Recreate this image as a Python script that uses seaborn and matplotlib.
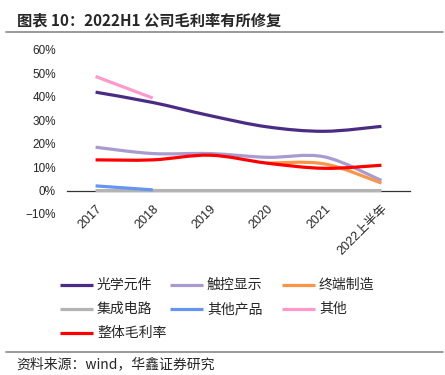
import numpy as np
import pandas as pd
import matplotlib
matplotlib.use("Agg")
import matplotlib.pyplot as plt
from matplotlib.path import Path
from matplotlib.patches import PathPatch
from matplotlib.lines import Line2D
import seaborn as sns

categories = ["2017", "2018", "2019", "2020", "2021", "2022上半年"]
optical = [42.0, 37.6, 32.0, 27.2, 25.3, 27.4]          # 光学元件
touch = [18.5, 15.8, 15.8, 14.2, 14.4, 4.3]             # 触控显示
terminal = [np.nan, np.nan, np.nan, 11.7, 11.4, 3.2]    # 终端制造
ic = [0.0, 0.0, 0.0, 0.0, 0.0, 0.0]                     # 集成电路
other_products = [2.0, 0.3, np.nan, np.nan, np.nan, np.nan]  # 其他产品
other = [48.7, 39.5, np.nan, np.nan, np.nan, np.nan]    # 其他
overall = [13.1, 13.1, 15.1, 11.7, 9.5, 10.8]           # 整体毛利率

series_names = ["光学元件", "触控显示", "终端制造", "集成电路", "其他产品", "其他", "整体毛利率"]
series_vals = [optical, touch, terminal, ic, other_products, other, overall]
colors = ["#4B2C84", "#A99BD0", "#F79646", "#B4B4B4", "#6495F0", "#FF99CC", "#FF0000"]
yticks = [-10, 0, 10, 20, 30, 40, 50, 60]
ytick_labels = ["−10%", "0%", "10%", "20%", "30%", "40%", "50%", "60%"]

sns.set_style("white")
plt.rcParams["font.family"] = ["Liberation Sans", "Noto Sans CJK SC", "DejaVu Sans"]

W, H = 445, 375
fig = plt.figure(figsize=(W / 100, H / 100), dpi=100)
ax = fig.add_axes([67 / W, 1 - 214 / H, (410 - 67) / W, (214 - 50) / H])

df = pd.DataFrame({"x": np.arange(len(categories))})
for n, v in zip(series_names, series_vals):
    df[n] = v


def smooth_path(xs, ys):
    pts = np.column_stack([xs, ys])
    verts = [pts[0]]
    codes = [Path.MOVETO]
    n = len(pts)
    for i in range(n - 1):
        p0 = pts[i - 1] if i > 0 else pts[i]
        p1 = pts[i]
        p2 = pts[i + 1]
        p3 = pts[i + 2] if i + 2 < n else pts[i + 1]
        c1 = p1 + (p2 - p0) / 6.0
        c2 = p2 - (p3 - p1) / 6.0
        verts += [c1, c2, p2]
        codes += [Path.CURVE4] * 3
    return Path(verts, codes)


lw = 2.3
for n, c in zip(series_names, colors):
    sub = df[["x", n]].dropna()
    xs = sub["x"].to_numpy(float)
    ys = sub[n].to_numpy(float)
    if len(xs) < 2:
        continue
    patch = PathPatch(smooth_path(xs, ys), facecolor="none", edgecolor=c,
                      lw=lw, capstyle="butt", joinstyle="round", zorder=3)
    ax.add_patch(patch)

for s in ["left", "right", "top"]:
    ax.spines[s].set_visible(False)
ax.spines["bottom"].set_position(("data", 0))
ax.spines["bottom"].set_color("#333333")
ax.spines["bottom"].set_linewidth(0.9)
ax.spines["bottom"].set_zorder(2)
ax.grid(False)

ax.set_xlim(-0.5, len(categories) - 0.5)
ax.set_ylim(-10, 60)
ax.set_yticks(yticks)
ax.set_yticklabels(ytick_labels, fontsize=8.5)
ax.set_xticks(np.arange(len(categories)))
ax.set_xticklabels(categories, fontsize=9, rotation=45, ha="right",
                   rotation_mode="anchor", va="top",
                   family=["Liberation Sans", "Noto Sans CJK SC"])
ax.set_xticks(np.arange(-0.5, len(categories)), minor=True)
ax.tick_params(axis="x", which="major", length=0, pad=9)
ax.tick_params(axis="x", which="minor", length=3, direction="in", width=0.8, color="#333333")
ax.tick_params(axis="y", length=0, pad=8)

# Title and separators
fig.text(17 / W, 1 - 20 / H, "图表 10：2022H1 公司毛利率有所修复", fontsize=11, fontweight="bold",
         va="center", ha="left", family=["Noto Sans CJK SC", "DejaVu Sans"])
fig.add_artist(Line2D([6 / W, 443 / W], [1 - 32 / H] * 2, color="#888888", lw=1.2))
fig.add_artist(Line2D([6 / W, 443 / W], [1 - 352 / H] * 2, color="#888888", lw=1.2))
fig.text(16 / W, 1 - 364 / H, "资料来源：wind，华鑫证券研究", fontsize=10,
         va="center", ha="left", family=["Noto Sans CJK SC", "DejaVu Sans"])

# Legend
col_x = [60, 170, 282]
row_y = [285, 309, 333]
for i, (n, c) in enumerate(zip(series_names, colors)):
    r, k = divmod(i, 3)
    x0 = col_x[k]
    y0 = row_y[r]
    fig.add_artist(Line2D([x0 / W, (x0 + 33) / W], [1 - y0 / H] * 2, color=c, lw=lw,
                          solid_capstyle="butt"))
    fig.text((x0 + 37) / W, 1 - y0 / H, n, fontsize=10, va="center", ha="left",
             family=["Noto Sans CJK SC", "DejaVu Sans"])

fig.savefig("out.png", dpi=100)
